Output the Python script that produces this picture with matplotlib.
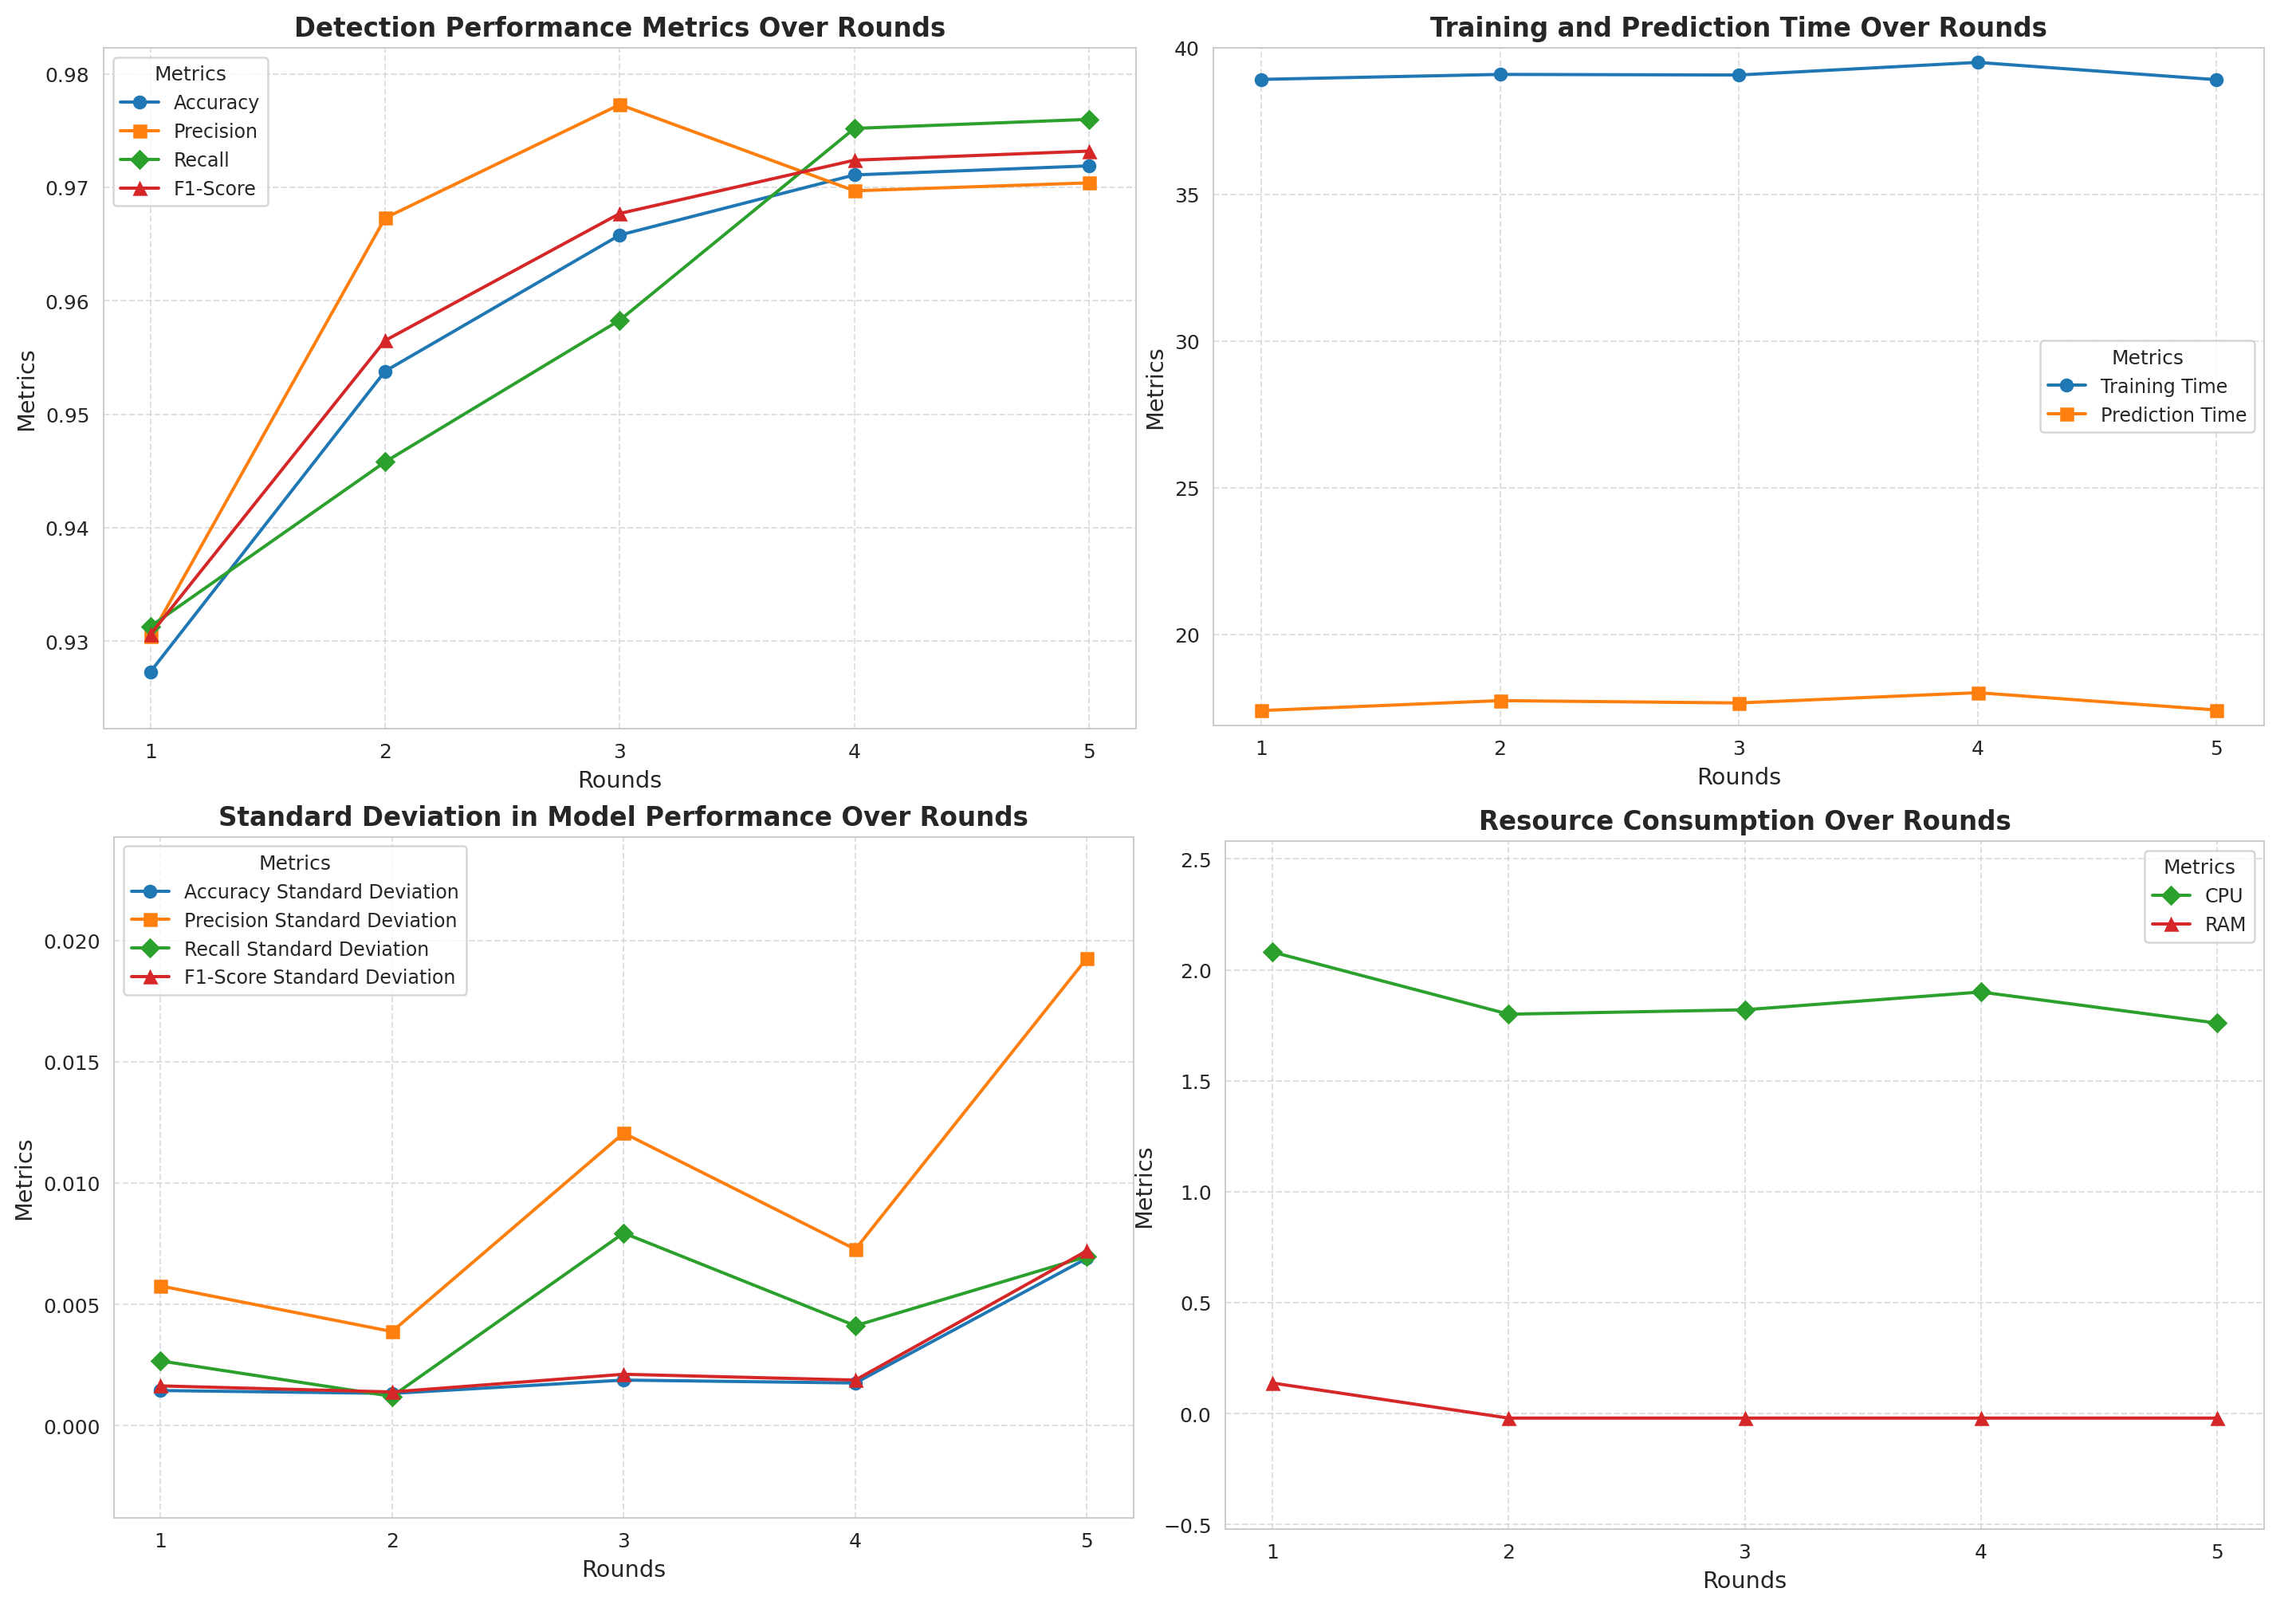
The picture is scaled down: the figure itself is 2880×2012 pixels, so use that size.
import numpy as np
import matplotlib
matplotlib.use("Agg")
import matplotlib.pyplot as plt
import seaborn as sns

sns.set_style("whitegrid")
plt.rcParams['font.family'] = ['DejaVu Sans']

rounds = [1, 2, 3, 4, 5]

# detection metrics
accuracy = [0.9273, 0.9538, 0.9658, 0.9711, 0.9719]
precision = [0.9304, 0.9673, 0.9773, 0.9697, 0.9704]
recall = [0.9313, 0.9458, 0.9583, 0.9752, 0.9760]
f1_score = [0.9306, 0.9565, 0.9677, 0.9724, 0.9732]

# timing
training_time = [38.92, 39.09, 39.07, 39.50, 38.91]
prediction_time = [17.40, 17.74, 17.66, 18.01, 17.42]

# standard deviations
accuracy_std = [0.00145, 0.00133, 0.00188, 0.00176, 0.00690]
precision_std = [0.00576, 0.00388, 0.01206, 0.00727, 0.01927]
recall_std = [0.00267, 0.00121, 0.00794, 0.00412, 0.00697]
f1_std = [0.00164, 0.00139, 0.00212, 0.00188, 0.00721]

# resources
cpu = [2.08, 1.80, 1.82, 1.90, 1.76]
ram = [0.138, -0.02, -0.02, -0.02, -0.02]

fig, axes = plt.subplots(2, 2, figsize=(16, 11.183))
ax1, ax2, ax3, ax4 = axes.flatten()

ax1.set_position([0.0451, 0.5456, 0.4497, 0.4241])
ax2.set_position([0.5285, 0.5476, 0.4576, 0.4222])
ax3.set_position([0.0497, 0.0538, 0.4439, 0.4243])
ax4.set_position([0.5337, 0.0467, 0.4524, 0.4287])


def style(ax, title, series, pad, loc):
    vals = np.concatenate([s[0] for s in series])
    for values, label, marker, color in series:
        ax.plot(rounds, values, marker=marker, label=label, color=color, lw=1.6)
    ax.set_ylim(vals.min() - pad, vals.max() + pad)
    ax.set_title(title, fontsize=13, fontweight='bold')
    ax.set_xlabel("Rounds", fontsize=11.5)
    ax.set_ylabel("Metrics", fontsize=11.5)
    ax.set_xticks(rounds)
    ax.grid(True, linestyle='--', alpha=0.6)
    ax.legend(title="Metrics", loc=loc, fontsize=9.5, title_fontsize=10)


style(ax1, "Detection Performance Metrics Over Rounds", [
    (np.array(accuracy), "Accuracy", 'o', 'C0'),
    (np.array(precision), "Precision", 's', 'C1'),
    (np.array(recall), "Recall", 'D', 'C2'),
    (np.array(f1_score), "F1-Score", '^', 'C3'),
], 0.005, 'upper left')

style(ax2, "Training and Prediction Time Over Rounds", [
    (np.array(training_time), "Training Time", 'o', 'C0'),
    (np.array(prediction_time), "Prediction Time", 's', 'C1'),
], 0.5, 'center right')

style(ax3, "Standard Deviation in Model Performance Over Rounds", [
    (np.array(accuracy_std), "Accuracy Standard Deviation", 'o', 'C0'),
    (np.array(precision_std), "Precision Standard Deviation", 's', 'C1'),
    (np.array(recall_std), "Recall Standard Deviation", 'D', 'C2'),
    (np.array(f1_std), "F1-Score Standard Deviation", '^', 'C3'),
], 0.005, 'upper left')

style(ax4, "Resource Consumption Over Rounds", [
    (np.array(cpu), "CPU", 'D', 'C2'),
    (np.array(ram), "RAM", '^', 'C3'),
], 0.5, 'upper right')

fig.savefig("out.png", dpi=180)
